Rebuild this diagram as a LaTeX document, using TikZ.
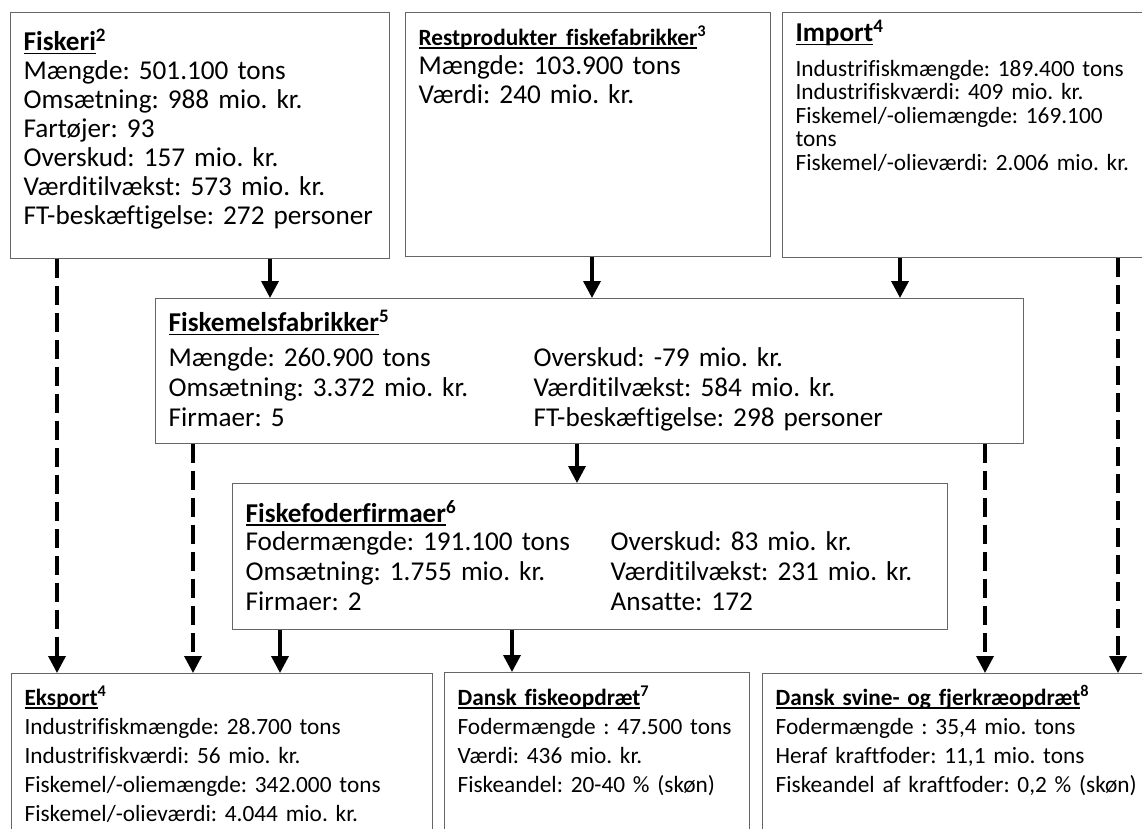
\documentclass[tikz,border=0pt]{standalone}
\usepackage{fontspec}
\setmainfont{Carlito}[Ligatures=NoCommon]
\usetikzlibrary{arrows.meta,calc}
\frenchspacing

\newcommand{\bigtxt}{\fontsize{27.2}{29}\selectfont}
\newcommand{\smalltxt}{\fontsize{23.3}{29}\selectfont}
\newcommand{\ulbox}[1]{\setbox0=\hbox{#1}\rlap{\rule[-0.14em]{\wd0}{0.07em}}\box0}
\newcommand{\ttl}[2]{\textbf{\ulbox{#1}\textsuperscript{#2}}}
\newcommand{\colA}[1]{\makebox[365pt][l]{#1}}

\begin{document}
\begin{tikzpicture}[x=1pt,y=-1pt,
  box/.style={draw=black!60,line width=1.2pt,anchor=north west,align=left,
    inner xsep=13pt,inner ysep=0pt},
  arr/.style={line width=3.5pt,-{Triangle[length=17pt,width=17pt]}},
  dasharr/.style={arr,dash pattern=on 19pt off 8pt}]
\useasboundingbox (0,0) rectangle (1142,828);
\clip (0,0) rectangle (1142,828);

% top row
\node[box,font=\bigtxt,text width=353pt,text height=38pt,text depth=208pt] (fiskeri) at (10,12)
  {\ttl{Fiskeri}{2}\\
   Mængde: 501.100 tons\\
   Omsætning: 988 mio. kr.\\
   Fartøjer: 93\\
   Overskud: 157 mio. kr.\\
   Værditilvækst: 573 mio. kr.\\
   FT-beskæftigelse: 272 personer};
\node[box,font=\bigtxt,text width=339pt,text height=33pt,text depth=211pt] (rest) at (405,12)
  {{\smalltxt\ttl{Restprodukter fiskefabrikker}{3}}\\
   Mængde: 103.900 tons\\
   Værdi: 240 mio. kr.};
\node[box,font=\fontsize{23.3}{23.5}\selectfont,text width=352pt,text height=29pt,text depth=216pt] (import) at (782,12)
  {{\bigtxt\ttl{Import}{4}}\\[11pt]
   Industrifiskmængde: 189.400 tons\\
   Industrifiskværdi: 409 mio. kr.\\
   Fiskemel/-oliemængde: 169.100\\
   tons\\
   Fiskemel/-olieværdi: 2.006 mio. kr.};

% middle
\node[box,font=\fontsize{27.2}{30}\selectfont,text width=842pt,text height=33pt,text depth=112pt] (fiskemel) at (155,298)
  {\ttl{Fiskemelsfabrikker}{5}\\[4.5pt]
   \colA{Mængde: 260.900 tons}Overskud: -79 mio. kr.\\
   \colA{Omsætning: 3.372 mio. kr.}Værditilvækst: 584 mio. kr.\\
   \colA{Firmaer: 5}FT-beskæftigelse: 298 personer};
\node[box,font=\fontsize{27.2}{30}\selectfont,text width=689pt,text height=38.5pt,text depth=107.5pt] (foder) at (232,483)
  {\ttl{Fiskefoderfirmaer}{6}\\[-2pt]
   \colA{Fodermængde: 191.100 tons}Overskud: 83 mio. kr.\\
   \colA{Omsætning: 1.755 mio. kr.}Værditilvækst: 231 mio. kr.\\
   \colA{Firmaer: 2}Ansatte: 172};

% bottom row
\node[box,font=\smalltxt,text width=395pt,text height=32pt,text depth=160pt] (eksport) at (11,673)
  {\ttl{Eksport}{4}\\
   Industrifiskmængde: 28.700 tons\\
   Industrifiskværdi: 56 mio. kr.\\
   Fiskemel/-oliemængde: 342.000 tons\\
   Fiskemel/-olieværdi: 4.044 mio. kr.};
\node[box,font=\smalltxt,text width=279pt,text height=33pt,text depth=160pt] (opdraet) at (444,672)
  {\ttl{Dansk fiskeopdræt}{7}\\
   Fodermængde : 47.500 tons\\
   Værdi: 436 mio. kr.\\
   Fiskeandel: 20-40 \% (skøn)};
\node[box,font=\smalltxt,text width=372pt,text height=32pt,text depth=160pt] (svine) at (762,673)
  {\ttl{Dansk svine- og fjerkræopdræt}{8}\\
   Fodermængde : 35,4 mio. tons\\
   Heraf kraftfoder: 11,1 mio. tons\\
   Fiskeandel af kraftfoder: 0,2 \% (skøn)};

% flows into the fish meal factories
\draw[arr] ($(fiskeri.south west)+(260,0)$) coordinate (p1) -- (p1 |- fiskemel.north);
\draw[arr] ($(rest.south west)+(187,0)$) coordinate (p2) -- (p2 |- fiskemel.north);
\draw[arr] ($(import.south west)+(118,0)$) coordinate (p3) -- (p3 |- fiskemel.north);
\draw[arr] ($(fiskemel.south west)+(422,0)$) coordinate (p4) -- (p4 |- foder.north);
% feed companies
\draw[arr] ($(foder.south west)+(48,0)$) coordinate (p5) -- (p5 |- eksport.north);
\draw[arr] ($(foder.south west)+(280,0)$) coordinate (p6) -- (p6 |- opdraet.north);
% dashed flows
\draw[dasharr] ($(fiskeri.south west)+(47,0)$) coordinate (d1) -- (d1 |- eksport.north);
\draw[dasharr] ($(fiskemel.south west)+(38,0)$) coordinate (d2) -- (d2 |- eksport.north);
\draw[dasharr] ($(fiskemel.south west)+(830,0)$) coordinate (d3) -- (d3 |- svine.north);
\draw[dasharr] ($(import.south west)+(336,0)$) coordinate (d4) -- (d4 |- svine.north);
\end{tikzpicture}
\end{document}
